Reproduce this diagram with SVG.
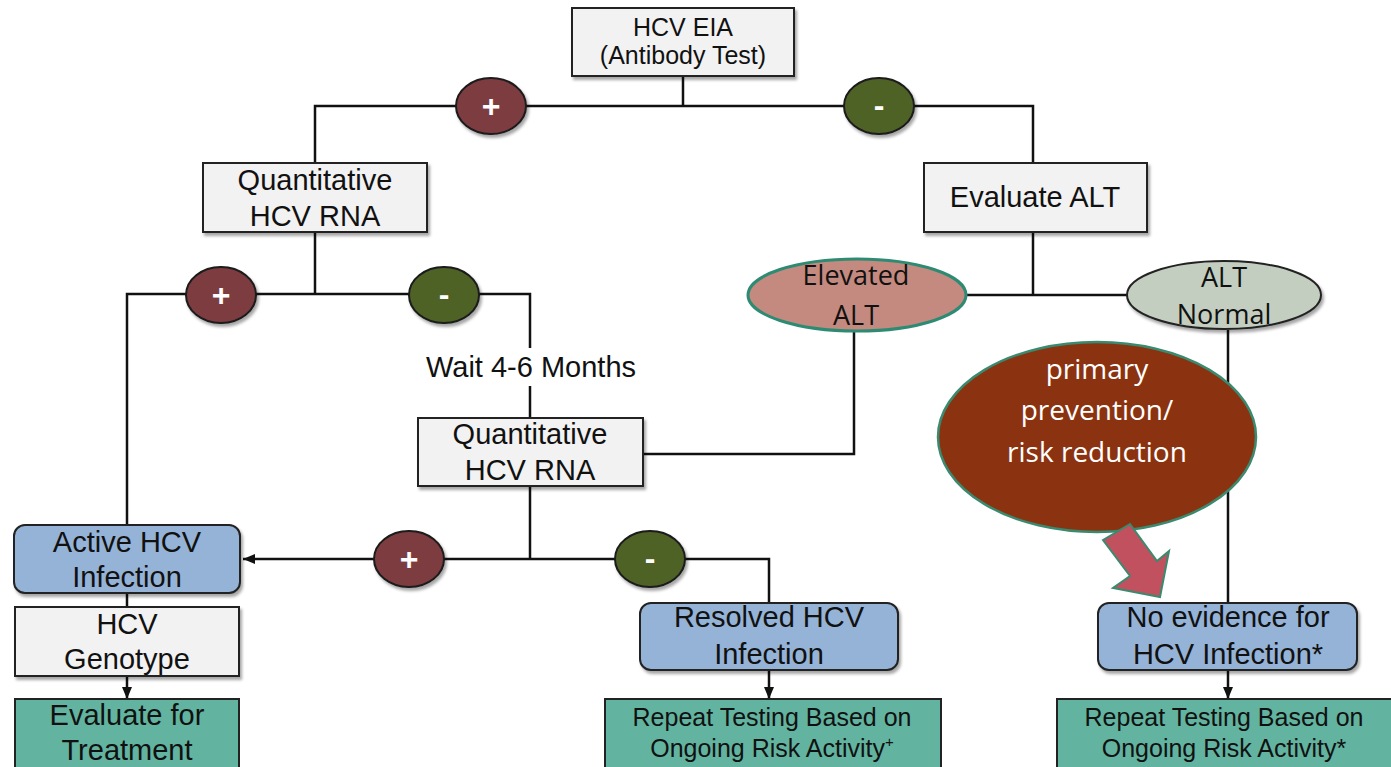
<svg xmlns="http://www.w3.org/2000/svg" width="1391" height="767" viewBox="0 0 1391 767">
<defs>
<filter id="sh" x="-10%" y="-10%" width="130%" height="140%">
<feDropShadow dx="2" dy="3" stdDeviation="1.5" flood-color="#000" flood-opacity="0.35"/>
</filter>
<marker id="ah" viewBox="0 0 12 10" refX="12" refY="5" markerWidth="12" markerHeight="10" markerUnits="userSpaceOnUse" orient="auto">
<path d="M0,0 L12,5 L0,10 Z" fill="#111"/>
</marker>
<style>
.ln{fill:none;stroke:#111;stroke-width:2.5}
.gray{fill:#F2F2F2;stroke:#222;stroke-width:2;filter:url(#sh)}
.blue{fill:#95B3D7;stroke:#222;stroke-width:2;filter:url(#sh)}
.green{fill:#62B4A0;stroke:#222;stroke-width:2}
.pos{fill:#7D3C41;stroke:#1a1a1a;stroke-width:2;filter:url(#sh)}
.neg{fill:#4F6228;stroke:#1a1a1a;stroke-width:2;filter:url(#sh)}
.t{font-family:"Liberation Sans",Arial,sans-serif;font-size:29px;fill:#111;text-anchor:middle}
.ts{font-family:"Liberation Sans",Arial,sans-serif;font-size:25px;fill:#111;text-anchor:middle}
.sign{font-family:"Liberation Sans",Arial,sans-serif;font-size:32px;font-weight:bold;fill:#fff;text-anchor:middle}
.c{font-family:"Open Sans","Noto Sans",sans-serif;font-size:27px;fill:#111;text-anchor:middle}
.cw{font-family:"Open Sans","Noto Sans",sans-serif;font-size:28px;fill:#fff;text-anchor:middle}
</style>
</defs>
<rect width="1391" height="767" fill="#fff"/>

<g id="connectors">
<path class="ln" d="M683,77 V106"/>
<path class="ln" d="M315,163 V106 H1033 V163"/>
<path class="ln" d="M315,232 V294"/>
<path class="ln" d="M127,525 V294 H530 V348"/>
<path class="ln" d="M530,386 V418"/>
<path class="ln" d="M1033,232 V295"/>
<path class="ln" d="M966,295 H1127"/>
<path class="ln" d="M854,331 V454 H643"/>
<path class="ln" d="M530,486 V559"/>
<path class="ln" d="M530,559 H243" marker-end="url(#ah)"/>
<path class="ln" d="M530,559 H769 V603"/>
<path class="ln" d="M1228,330 V603"/>
<path class="ln" d="M127,593 V607"/>
<path class="ln" d="M127,676 V699" marker-end="url(#ah)"/>
<path class="ln" d="M769,670 V699" marker-end="url(#ah)"/>
<path class="ln" d="M1228,670 V699" marker-end="url(#ah)"/>
<text class="t" x="531" y="377">Wait 4-6 Months</text>
</g>

<g id="hcv-eia">
<rect class="gray" x="572" y="8" width="222" height="68"/>
<text class="ts" x="683" y="36">HCV EIA</text>
<text class="ts" x="683" y="64">(Antibody Test)</text>
</g>

<g id="pos-1"><ellipse class="pos" cx="491" cy="106" rx="35" ry="28"/><text class="sign" x="491" y="117">+</text></g>
<g id="neg-1"><ellipse class="neg" cx="879" cy="106" rx="35" ry="28"/><text class="sign" x="879" y="116">-</text></g>

<g id="quant-rna-1">
<rect class="gray" x="203" y="163" width="224" height="69"/>
<text class="t" x="315" y="190">Quantitative</text>
<text class="t" x="315" y="226">HCV RNA</text>
</g>

<g id="evaluate-alt">
<rect class="gray" x="924" y="163" width="223" height="69"/>
<text class="t" x="1035" y="207">Evaluate ALT</text>
</g>

<g id="pos-2"><ellipse class="pos" cx="221" cy="295" rx="35" ry="28"/><text class="sign" x="221" y="306">+</text></g>
<g id="neg-2"><ellipse class="neg" cx="444" cy="295" rx="35" ry="28"/><text class="sign" x="444" y="305">-</text></g>

<g id="elevated-alt">
<ellipse cx="857" cy="295" rx="109" ry="36" fill="#C4897F" stroke="#2E8B73" stroke-width="3"/>
<text class="c" x="856" y="285">Elevated</text>
<text class="c" x="856" y="325">ALT</text>
</g>

<g id="alt-normal">
<ellipse cx="1224" cy="295" rx="97" ry="34" fill="#C3CEC0" stroke="#222" stroke-width="2" filter="url(#sh)"/>
<text class="c" x="1224" y="287">ALT</text>
<text class="c" x="1224" y="324">Normal</text>
</g>

<g id="primary-prevention">
<ellipse cx="1097" cy="437" rx="159" ry="95" fill="#8B3310" stroke="#3A8A70" stroke-width="2.5"/>
<text class="cw" x="1097" y="379">primary</text>
<text class="cw" x="1097" y="420">prevention/</text>
<text class="cw" x="1097" y="462">risk reduction</text>
</g>

<g id="prevention-arrow">
<polygon points="1103,540 1130,524 1157,561 1169,551 1160,597 1113,588 1130,576" fill="#C2515F" stroke="#3A8A70" stroke-width="2" stroke-linejoin="miter"/>
</g>

<g id="quant-rna-2">
<rect class="gray" x="418" y="418" width="225" height="68"/>
<text class="t" x="530" y="444">Quantitative</text>
<text class="t" x="530" y="480">HCV RNA</text>
</g>

<g id="pos-3"><ellipse class="pos" cx="409" cy="559" rx="35" ry="28"/><text class="sign" x="409" y="570">+</text></g>
<g id="neg-3"><ellipse class="neg" cx="650" cy="559" rx="35" ry="28"/><text class="sign" x="650" y="569">-</text></g>

<g id="active-hcv">
<rect class="blue" x="14" y="525" width="226" height="68" rx="11"/>
<text class="t" x="127" y="552">Active HCV</text>
<text class="t" x="127" y="587">Infection</text>
</g>

<g id="hcv-genotype">
<rect class="gray" x="15" y="607" width="224" height="69"/>
<text class="t" x="127" y="634">HCV</text>
<text class="t" x="127" y="669">Genotype</text>
</g>

<g id="evaluate-treatment">
<rect class="green" x="15" y="699" width="224" height="75"/>
<text class="t" x="127" y="725">Evaluate for</text>
<text class="t" x="127" y="760">Treatment</text>
</g>

<g id="resolved-hcv">
<rect class="blue" x="640" y="603" width="258" height="67" rx="11"/>
<text class="t" x="769" y="627">Resolved HCV</text>
<text class="t" x="769" y="664">Infection</text>
</g>

<g id="repeat-testing-1">
<rect class="green" x="605" y="699" width="336" height="75"/>
<text class="ts" x="772" y="726">Repeat Testing Based on</text>
<text class="ts" x="772" y="757">Ongoing Risk Activity<tspan font-size="15" dy="-10">+</tspan></text>
</g>

<g id="no-evidence">
<rect class="blue" x="1098" y="603" width="259" height="67" rx="11"/>
<text class="t" x="1228" y="627">No evidence for</text>
<text class="t" x="1228" y="664">HCV Infection*</text>
</g>

<g id="repeat-testing-2">
<rect class="green" x="1057" y="699" width="345" height="75"/>
<text class="ts" x="1224" y="726">Repeat Testing Based on</text>
<text class="ts" x="1224" y="757">Ongoing Risk Activity*</text>
</g>
</svg>
